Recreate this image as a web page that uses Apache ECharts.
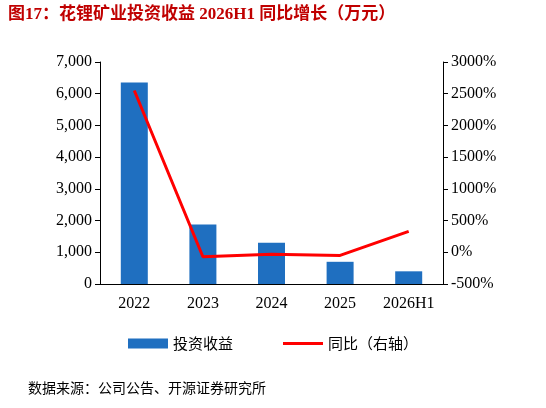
<!DOCTYPE html>
<html><head><meta charset="utf-8">
<script src="https://cdn.jsdelivr.net/npm/echarts@6/dist/echarts.min.js"></script>
<style>html,body{margin:0;padding:0;background:#fff}#c{width:546px;height:408px}</style>
</head><body><div id="c"></div>
<script>
const categories = ['2022','2023','2024','2025','2026H1'];
const income = [6350, 1880, 1300, 700, 400];
const yoy = [2550, -70, -30, -50, 330];
const leftTicks = [0, 7000, 1000];
const rightTicks = [-500, 3000, 500];
const font = '"Liberation Serif","Noto Sans CJK SC",serif';
const chart = echarts.init(document.getElementById('c'));
chart.setOption({
  animation:false,
  textStyle:{fontFamily:font},
  graphic:[
    {type:'text',left:8,top:6,style:{text:'图17：花锂矿业投资收益 2026H1 同比增长（万元）',font:'bold 17px "Liberation Serif","Noto Sans CJK SC",serif',fill:'#c00000'}},
    {type:'text',left:28,top:381,style:{text:'数据来源：公司公告、开源证券研究所',font:'14px "Noto Sans CJK SC",sans-serif',fill:'#000'}}
  ],
  grid:{left:100,right:103,top:62,bottom:124},
  legend:{bottom:52,left:'center',itemGap:50,textStyle:{fontSize:15,fontFamily:'"Noto Sans CJK SC",sans-serif',color:'#000'},
    data:[{name:'投资收益',icon:'rect',itemWidth:40,itemHeight:10},{name:'同比（右轴）',icon:'path://M0,0L40,0L40,3L0,3Z'}],itemWidth:40,itemHeight:10},
  xAxis:{type:'category',data:categories,axisTick:{show:false},axisLine:{lineStyle:{color:'#000'}},axisLabel:{color:'#000',fontSize:16,margin:12}},
  yAxis:[
    {type:'value',min:leftTicks[0],max:leftTicks[1],interval:leftTicks[2],splitLine:{show:false},axisLine:{show:true,lineStyle:{color:'#000'}},axisTick:{show:true},
     axisLabel:{color:'#000',fontSize:16,formatter:v=>v.toLocaleString('en-US')}},
    {type:'value',min:rightTicks[0],max:rightTicks[1],interval:rightTicks[2],splitLine:{show:false},axisLine:{show:true,lineStyle:{color:'#000'}},axisTick:{show:true},
     axisLabel:{color:'#000',fontSize:16,formatter:v=>v+'%'}}
  ],
  series:[
    {name:'投资收益',type:'bar',data:income,barWidth:27,itemStyle:{color:'#1f6fc0'}},
    {name:'同比（右轴）',type:'line',yAxisIndex:1,data:yoy,symbol:'none',lineStyle:{color:'#ff0000',width:3},itemStyle:{color:'#ff0000'}}
  ]
});
</script></body></html>
